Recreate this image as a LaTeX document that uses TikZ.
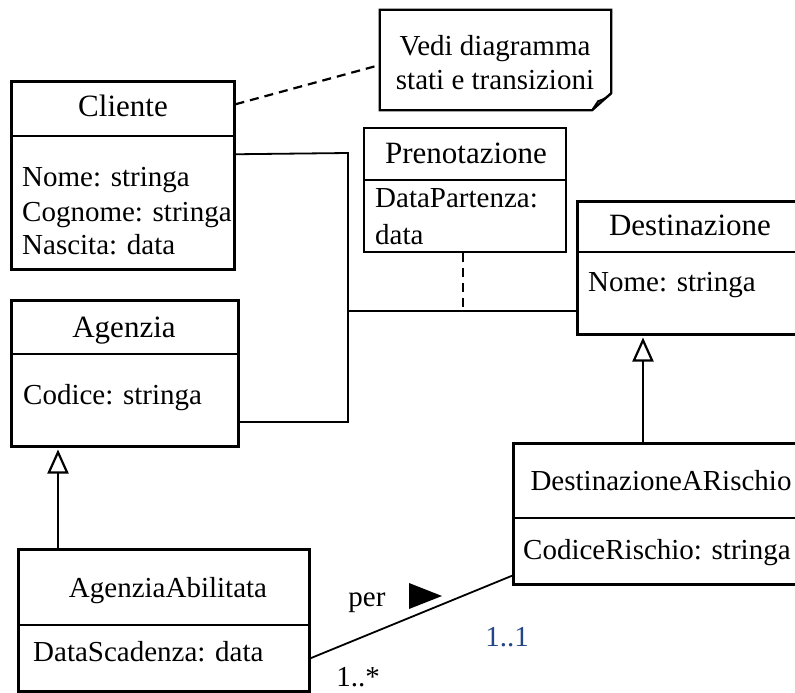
\documentclass[tikz,border=0pt]{standalone}
\usepackage{fontspec}
\setmainfont{Liberation Serif}
\usetikzlibrary{arrows.meta,calc}
\definecolor{multblue}{RGB}{35,70,135}
\tikzset{
  cls/.style={draw, line width=2.5pt, inner sep=0pt, anchor=north west},
  divline/.style={line width=2.5pt},
  title/.style={anchor=base, inner sep=0pt, font=\fontsize{29}{33}\selectfont},
  bigtitle/.style={title, font=\fontsize{31}{35}\selectfont},
  attr/.style={anchor=base west, inner sep=0pt, font=\fontsize{29}{33}\selectfont},
  assoc/.style={line width=1.8pt},
  dashlink/.style={line width=2.2pt, dash pattern=on 9pt off 6pt},
  gen/.style={line width=2.2pt, -{Triangle[open, length=24pt, width=21pt, line width=2.2pt]}, shorten >=2pt},
}
\begin{document}
\begin{tikzpicture}[x=1pt, y=-1pt]
\useasboundingbox (0,0) rectangle (795,693);
\clip (0,0) rectangle (795,693);
\fill[white] (0,0) rectangle (795,693);

% ---------- class boxes ----------
\node[cls, minimum width=223pt, minimum height=188pt] (cliente) at (10,80) {};
\draw[divline] (cliente.west |- 0,136) -- (cliente.east |- 0,136);
\node[bigtitle] at (123,116) {Cliente};
\node[attr] at (22,186) {Nome: stringa};
\node[attr] at (22,221) {Cognome: stringa};
\node[attr] at (22,254) {Nascita: data};

\node[cls, line width=2.1pt, minimum width=202pt, minimum height=124pt] (pren) at (363,127) {};
\draw[line width=2.1pt] (pren.west |- 0,180) -- (pren.east |- 0,180);
\node[bigtitle] at (466,163) {Prenotazione};
\node[attr] at (375,207) {DataPartenza:};
\node[attr] at (375,244) {data};

\node[cls, minimum width=240pt, minimum height=133pt] (dest) at (576,200) {};
\draw[divline] (dest.west |- 0,252) -- (dest.east |- 0,252);
\node[bigtitle] at (690,235) {Destinazione};
\node[attr] at (588,291) {Nome: stringa};

\node[cls, minimum width=227pt, minimum height=146pt] (agenzia) at (10,299) {};
\draw[divline] (agenzia.west |- 0,354) -- (agenzia.east |- 0,354);
\node[bigtitle] at (124,337) {Agenzia};
\node[attr] at (23,404) {Codice: stringa};

\node[cls, minimum width=291pt, minimum height=142pt] (agab) at (17,548) {};
\draw[divline] (agab.west |- 0,625) -- (agab.east |- 0,625);
\node[title] at (168,597) {AgenziaAbilitata};
\node[attr] at (33,661) {DataScadenza: data};

\node[cls, minimum width=300pt, minimum height=141pt] (dar) at (512,442) {};
\draw[divline] (dar.west |- 0,518) -- (dar.east |- 0,518);
\node[title] at (661,490) {DestinazioneARischio};
\node[attr] at (523,559) {CodiceRischio: stringa};

% ---------- note ----------
\node[minimum width=231pt, minimum height=100pt, inner sep=0pt] (note) at (495.5,60) {};
\draw[line width=2.2pt, line join=miter]
  (note.north west) -- (note.north east) -- ([yshift=17pt]note.south east)
  -- ([xshift=-19pt]note.south east) -- (note.south west) -- cycle;
\draw[line width=2pt] ([yshift=17pt]note.south east) to[bend left=15] ([xshift=-13pt,yshift=9pt]note.south east)
  -- ([xshift=-19pt]note.south east);
\node[title] at (495,56) {Vedi diagramma};
\node[title] at (495,89) {stati e transizioni};

% ---------- connectors ----------
\draw[dashlink] ([yshift=71pt]cliente.east) -- ([yshift=-5pt]note.west);

\coordinate (jtop) at (348,153);
\coordinate (jmid) at (348,311);
\coordinate (jbot) at (348,422);
\draw[assoc] ([yshift=21pt]cliente.east) -- (jtop) -- (jbot) -- (agenzia.east |- jbot);
\draw[assoc] (jmid) -- (dest.west |- jmid);
\draw[dashlink] ([xshift=-2pt]pren.south) -- ([xshift=-2pt]pren.south |- jmid);

\draw[gen] (agab.north -| 58,0) -- (agenzia.south -| 58,0);
\draw[gen] (dar.north -| 643,0) -- (dest.south -| 643,0);

\draw[assoc] ([yshift=-38pt]agab.east) -- ([yshift=-62pt]dar.west);
\fill (409,583) -- (442,596) -- (409,609) -- cycle;
\node[title] at (367,606) {per};
\node[title, text=multblue] at (507,646) {1..1};
\node[title] at (358,686) {1..*};
\end{tikzpicture}
\end{document}
